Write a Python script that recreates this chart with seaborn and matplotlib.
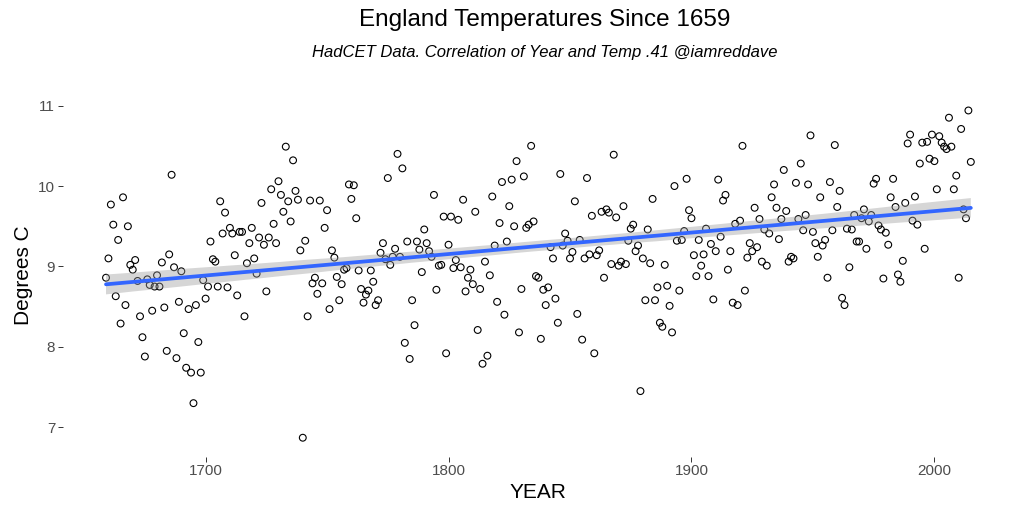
import numpy as np
import pandas as pd
import matplotlib
matplotlib.use("Agg")
import matplotlib.pyplot as plt
import seaborn as sns
from matplotlib.collections import PolyCollection

# ---- data (HadCET annual mean, deg C) ----
first_year = 1659
last_year = 2015

temps_1659_1699 = [
    8.86, 9.10, 9.77, 9.52, 8.63, 9.33, 8.29, 9.86, 8.52, 9.50,
    9.02, 8.96, 9.08, 8.82, 8.38, 8.12, 7.88, 8.84, 8.77, 8.45,
    8.75, 8.89, 8.75, 9.05, 8.49, 7.95, 9.15, 10.14, 8.99, 7.86,
    8.56, 8.94, 8.17, 7.74, 8.47, 7.68, 7.30, 8.52, 8.06, 7.68,
    8.83,
]
temps_1700s = [
    8.60, 8.75, 9.31, 9.09, 9.06, 8.75, 9.81, 9.41, 9.67, 8.74,
    9.48, 9.41, 9.14, 8.64, 9.43, 9.43, 8.38, 9.04, 9.29, 9.48,
    9.10, 8.91, 9.36, 9.79, 9.27, 8.69, 9.36, 9.96, 9.53, 9.29,
    10.06, 9.89, 9.68, 10.49, 9.81, 9.56, 10.32, 9.94, 9.83, 9.20,
    6.87, 9.32, 8.38, 9.82, 8.79, 8.86, 8.66, 9.82, 8.79, 9.48,
    9.70, 8.47, 9.20, 9.11, 8.87, 8.58, 8.78, 8.96, 8.98, 10.02,
    9.84, 10.01, 9.60, 8.95, 8.72, 8.55, 8.65, 8.70, 8.95, 8.81,
    8.52, 8.58, 9.17, 9.29, 9.09, 10.10, 9.02, 9.12, 9.22, 10.40,
    9.12, 10.22, 8.05, 9.31, 7.85, 8.58, 8.27, 9.31, 9.21, 8.93,
    9.46, 9.29, 9.19, 9.12, 9.89, 8.71, 9.01, 9.02, 9.62, 7.92,
]
temps_1800s = [
    9.27, 9.62, 8.98, 9.08, 9.58, 8.99, 9.83, 8.69, 8.86, 8.96,
    8.78, 9.68, 8.21, 8.72, 7.79, 9.06, 7.89, 8.89, 9.87, 9.26,
    8.56, 9.54, 10.05, 8.40, 9.31, 9.75, 10.08, 9.50, 10.31, 8.18,
    8.72, 10.12, 9.48, 9.52, 10.50, 9.56, 8.88, 8.86, 8.10, 8.71,
    8.52, 8.74, 9.24, 9.10, 8.60, 8.30, 10.15, 9.26, 9.41, 9.32,
    9.10, 9.18, 9.81, 8.41, 9.33, 8.09, 9.10, 10.10, 9.15, 9.63,
    7.92, 9.14, 9.20, 9.68, 8.86, 9.71, 9.67, 9.03, 10.39, 9.61,
    9.01, 9.06, 9.75, 9.03, 9.32, 9.47, 9.52, 9.19, 9.26, 7.45,
    9.10, 8.58, 9.46, 9.04, 9.84, 8.58, 8.74, 8.30, 8.25, 9.02,
    8.76, 8.51, 8.18, 10.00, 9.32, 8.70, 9.33, 9.44, 10.09, 9.70,
]
temps_1900s = [
    9.60, 9.14, 8.88, 9.33, 9.01, 9.15, 9.47, 8.88, 9.28, 8.59,
    9.19, 10.08, 9.37, 9.82, 9.89, 8.96, 9.19, 8.55, 9.53, 8.52,
    9.57, 10.50, 8.70, 9.11, 9.29, 9.19, 9.73, 9.24, 9.59, 9.06,
    9.46, 9.01, 9.41, 9.86, 10.02, 9.73, 9.34, 9.59, 10.20, 9.69,
    9.06, 9.12, 9.10, 10.04, 9.59, 10.28, 9.45, 9.64, 10.02, 10.63,
    9.43, 9.29, 9.12, 9.86, 9.26, 9.33, 8.86, 10.05, 9.45, 10.51,
    9.74, 9.94, 8.61, 8.52, 9.47, 8.99, 9.46, 9.64, 9.31, 9.31,
    9.60, 9.71, 9.22, 9.56, 9.64, 10.03, 10.09, 9.51, 9.46, 8.85,
    9.42, 9.27, 9.86, 10.09, 9.74, 8.90, 8.81, 9.07, 9.79, 10.53,
    10.64, 9.57, 9.87, 9.52, 10.28, 10.54, 9.22, 10.55, 10.34, 10.64,
]
temps_2000s = [
    10.31, 9.96, 10.62, 10.54, 10.49, 10.46, 10.85, 10.49, 9.96, 10.13,
    8.86, 10.71, 9.71, 9.60, 10.94, 10.30,
]

x_ticks = [1700, 1800, 1900, 2000]
y_ticks = [7, 8, 9, 10, 11]

title = "England Temperatures Since 1659"
subtitle = "HadCET Data. Correlation of Year and Temp .41 @iamreddave"

years = list(range(first_year, last_year + 1))
temps = temps_1659_1699 + temps_1700s + temps_1800s + temps_1900s + temps_2000s
df = pd.DataFrame({"YEAR": years, "Temp": temps})

# ---- styling ----
sns.set_theme(style="white")
plt.rcParams['font.family'] = ['Liberation Sans', 'DejaVu Sans']

fig = plt.figure(figsize=(10.24, 5.12), dpi=100)
ax = fig.add_axes([0.0613, 0.108, 0.929, 0.710])

sns.regplot(
    data=df, x="YEAR", y="Temp", ax=ax, ci=95, n_boot=1000, seed=3,
    scatter_kws=dict(s=24, color="black", facecolors="none", edgecolors="black",
                     linewidths=0.8, alpha=1, zorder=2),
    line_kws=dict(color="#3366FF", linewidth=2.7, zorder=4),
)
for coll in ax.collections:
    if isinstance(coll, PolyCollection):
        coll.set_alpha(None)
        coll.set_facecolor((0.6, 0.6, 0.6, 0.4))
        coll.set_edgecolor("none")
        coll.set_zorder(3)

ax.set_xlim(1641.2, 2032.8)
ax.set_ylim(6.634, 11.155)
ax.set_xticks(x_ticks)
ax.set_yticks(y_ticks)
ax.set_xticklabels([str(t) for t in x_ticks])
ax.set_yticklabels([str(t) for t in y_ticks])
for s in ax.spines.values():
    s.set_visible(False)
ax.grid(False)
ax.tick_params(axis="both", which="major", length=3.5, width=0.7, color="#333333",
               labelcolor="#4D4D4D", labelsize=11, pad=2, bottom=True, left=True)

ax.set_xlabel("YEAR", fontsize=15, color="black", labelpad=3)
ax.set_ylabel("Degrees C", fontsize=15, color="black", labelpad=4)

fig.text(0.532, 1 - 20 / 512, title, ha="center", va="center", fontsize=17.5, color="black")
fig.text(0.532, 1 - 52 / 512, subtitle, ha="center", va="center", fontsize=12,
         style="italic", color="black")

fig.savefig("out.png", dpi=100, facecolor="white")
